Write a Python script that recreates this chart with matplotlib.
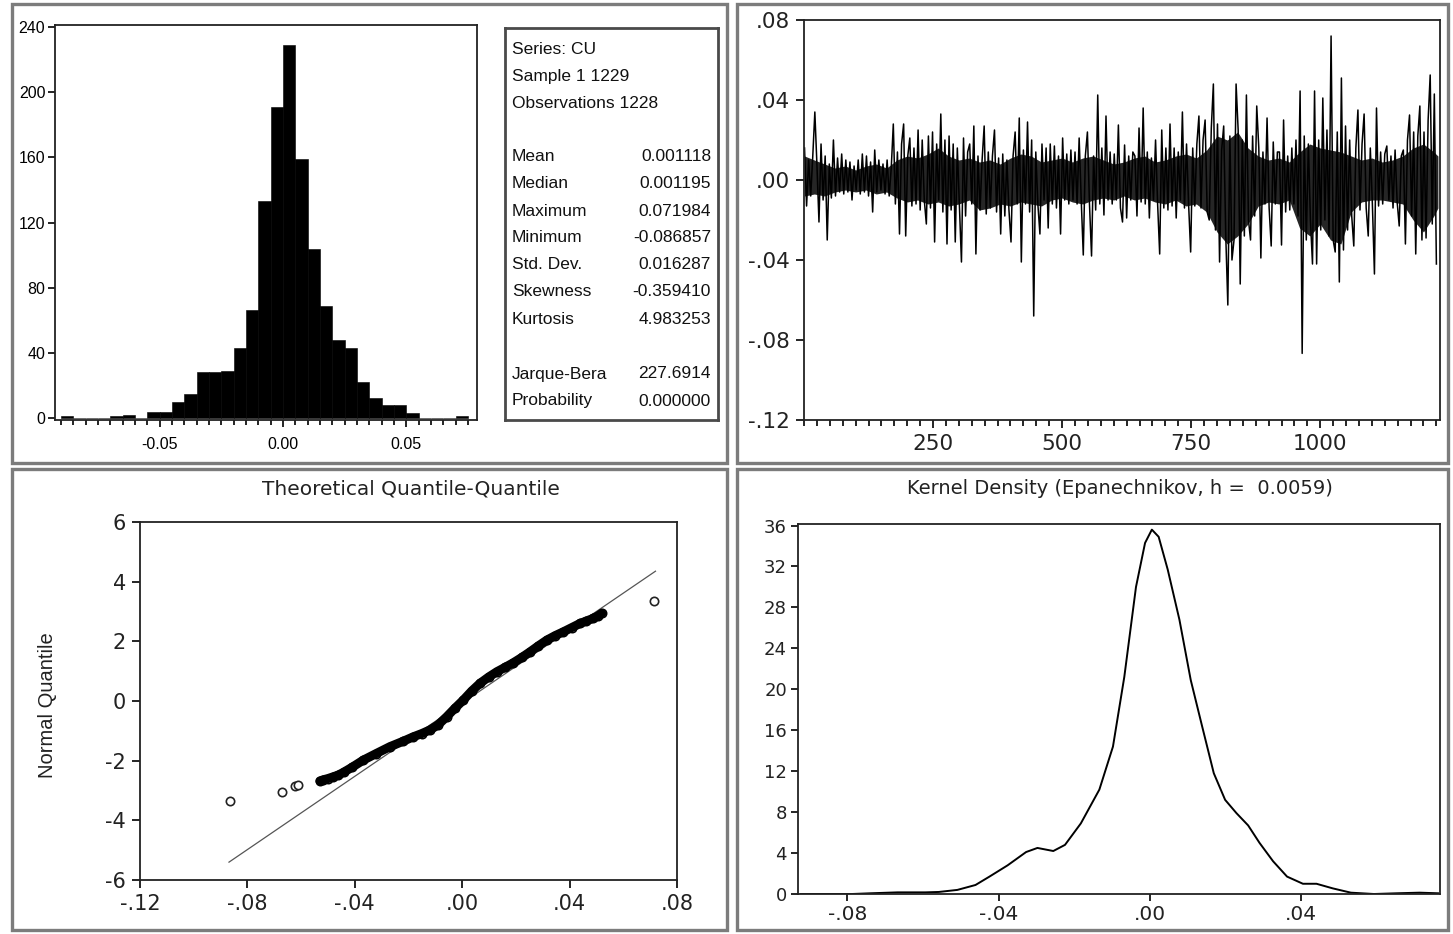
import matplotlib
matplotlib.use("Agg")
import matplotlib.pyplot as plt
from matplotlib.patches import Rectangle
from matplotlib.ticker import FixedLocator, MultipleLocator
from matplotlib import font_manager

# ---------------- data ----------------
hist_bin_start = [-0.090, -0.085, -0.080, -0.075, -0.070, -0.065, -0.060, -0.055,
                  -0.050, -0.045, -0.040, -0.035, -0.030, -0.025, -0.020, -0.015,
                  -0.010, -0.005, 0.000, 0.005, 0.010, 0.015, 0.020, 0.025,
                  0.030, 0.035, 0.040, 0.045, 0.050, 0.055, 0.060, 0.065, 0.070]
hist_counts = [1, 0, 0, 0, 1, 2, 0, 4,
               4, 10, 15, 28, 28, 29, 43, 66,
               133, 191, 229, 159, 104, 69, 48, 43,
               22, 12, 8, 8, 3, 0, 0, 0, 1]
hist_bin_width = 0.005
hist_xticks = [-0.05, 0.00, 0.05]
hist_xticklabels = ["-0.05", "0.00", "0.05"]
hist_yticks = [0, 40, 80, 120, 160, 200, 240]

stats_header = ["Series: CU", "Sample 1 1229", "Observations 1228"]
stats_names = ["Mean", "Median", "Maximum", "Minimum", "Std. Dev.", "Skewness", "Kurtosis"]
stats_values = ["0.001118", "0.001195", "0.071984", "-0.086857", "0.016287", "-0.359410", "4.983253"]
test_names = ["Jarque-Bera", "Probability"]
test_values = ["227.6914", "0.000000"]

# CU series, one value read every 4 observations
ts_values = [
    0.016, -0.013, 0.010, -0.008, 0.012, 0.034, 0.008, -0.021, 0.018, -0.010,
    0.012, -0.030, 0.008, -0.009, 0.020, -0.008, 0.011, -0.006, 0.013, -0.007,
    0.010, -0.006, 0.009, -0.010, 0.007, -0.005, 0.010, -0.007, 0.013, -0.006,
    0.012, -0.008, 0.009, -0.016, 0.015, -0.006, 0.010, -0.005, 0.008, -0.007,
    0.010, -0.008, 0.006, 0.028, -0.012, 0.014, -0.027, 0.018, 0.028, -0.028,
    0.012, 0.021, -0.013, 0.016, -0.012, 0.025, -0.015, 0.020, -0.010, -0.022,
    0.022, -0.014, 0.024, -0.031, 0.018, -0.010, 0.033, -0.016, 0.020, -0.032,
    0.022, -0.015, 0.018, -0.031, 0.016, -0.012, -0.041, 0.021, -0.018, 0.014,
    0.018, -0.012, 0.027, -0.037, 0.012, -0.015, 0.010, 0.027, -0.017, 0.014,
    -0.014, 0.012, 0.025, -0.016, 0.011, -0.027, 0.013, -0.018, 0.010, -0.015,
    -0.031, 0.012, 0.024, -0.012, 0.031, -0.041, 0.015, -0.012, 0.029, -0.016,
    0.020, -0.068, 0.014, -0.012, -0.027, 0.018, -0.010, 0.016, -0.024, 0.018,
    -0.012, 0.017, -0.014, 0.012, -0.027, 0.021, -0.010, 0.013, -0.012, 0.015,
    -0.010, 0.014, -0.012, 0.021, -0.010, -0.0375, 0.012, 0.024, -0.012, -0.038,
    0.012, -0.015, 0.0425, -0.012, 0.016, -0.0175, 0.032, -0.010, 0.014, -0.012,
    0.013, -0.010, 0.0275, -0.014, -0.021, 0.0175, -0.019, 0.012, -0.010, 0.014,
    0.012, -0.018, 0.026, -0.011, 0.036, -0.012, 0.014, -0.019, 0.011, -0.010,
    0.020, -0.012, -0.037, 0.025, -0.014, 0.016, -0.015, 0.028, -0.013, 0.016,
    -0.019, 0.014, -0.010, 0.034, -0.014, 0.018, -0.012, -0.036, 0.016, -0.013,
    0.018, 0.032, -0.014, 0.020, 0.030, -0.016, -0.020, 0.026, 0.048, -0.025,
    0.028, -0.041, 0.015, 0.027, -0.028, -0.0625, 0.022, -0.040, -0.030, 0.048,
    0.025, -0.052, 0.020, -0.028, 0.0425, -0.020, -0.030, 0.022, -0.018, 0.037,
    0.016, -0.039, 0.014, -0.012, 0.031, -0.014, -0.033, 0.019, -0.012, 0.014,
    0.014, -0.0325, 0.030, -0.016, 0.012, -0.015, 0.016, -0.012, 0.020, -0.018,
    0.0445, -0.0867, 0.022, -0.030, 0.018, -0.020, -0.042, 0.0445, -0.042, 0.020,
    -0.025, 0.041, -0.020, 0.025, -0.028, 0.072, -0.030, -0.036, 0.024, -0.051,
    0.051, -0.035, 0.027, -0.025, 0.020, -0.018, -0.033, 0.016, 0.035, -0.015,
    0.018, 0.033, -0.014, -0.028, 0.016, -0.012, -0.047, 0.036, -0.013, 0.014,
    -0.012, 0.013, 0.017, -0.010, 0.012, -0.014, 0.015, -0.011, -0.023, 0.012,
    0.015, -0.032, 0.020, 0.0325, -0.018, 0.024, -0.037, 0.022, 0.037, -0.030,
    0.024, -0.029, 0.030, 0.0525, -0.022, 0.043, -0.042,
]
ts_obs = [1 + 4 * i for i in range(len(ts_values))]

# dense black core of the series: upper / lower edge read every 20 observations
ts_core_obs = [1, 20, 40, 60, 80, 100, 120, 140, 160, 180, 200, 220, 240, 260, 280, 300,
               320, 340, 360, 380, 400, 420, 440, 460, 480, 500, 520, 540, 560, 580, 600,
               620, 640, 660, 680, 700, 720, 740, 760, 780, 800, 820, 840, 860, 880, 900,
               920, 940, 960, 980, 1000, 1020, 1040, 1060, 1080, 1100, 1120, 1140, 1160,
               1180, 1200, 1220, 1228]
ts_core_hi = [0.012, 0.010, 0.008, 0.006, 0.007, 0.005, 0.007, 0.008, 0.006, 0.010, 0.012,
              0.011, 0.013, 0.016, 0.012, 0.010, 0.011, 0.009, 0.010, 0.008, 0.011, 0.013,
              0.012, 0.009, 0.010, 0.011, 0.009, 0.011, 0.012, 0.010, 0.008, 0.009, 0.011,
              0.012, 0.009, 0.010, 0.012, 0.013, 0.011, 0.015, 0.022, 0.020, 0.024, 0.016,
              0.012, 0.010, 0.011, 0.009, 0.014, 0.018, 0.016, 0.015, 0.014, 0.012, 0.010,
              0.011, 0.009, 0.010, 0.012, 0.016, 0.018, 0.014, 0.012]
ts_core_lo = [-0.008, -0.007, -0.008, -0.006, -0.005, -0.006, -0.005, -0.007, -0.006, -0.009,
              -0.011, -0.010, -0.012, -0.011, -0.013, -0.012, -0.010, -0.015, -0.014, -0.012,
              -0.013, -0.011, -0.012, -0.013, -0.010, -0.009, -0.011, -0.012, -0.010, -0.009,
              -0.010, -0.008, -0.010, -0.009, -0.011, -0.012, -0.010, -0.013, -0.012, -0.016,
              -0.026, -0.032, -0.028, -0.022, -0.013, -0.011, -0.012, -0.010, -0.024, -0.028,
              -0.022, -0.030, -0.032, -0.016, -0.011, -0.010, -0.010, -0.011, -0.012, -0.020,
              -0.026, -0.018, -0.014]
ts_xticks = [250, 500, 750, 1000]
ts_yticks = [-0.12, -0.08, -0.04, 0.00, 0.04, 0.08]
ts_yticklabels = ["-.12", "-.08", "-.04", ".00", ".04", ".08"]

# Quantile-quantile: empirical quantile of CU (x) vs normal quantile (y)
qq_tail_x = [-0.0865, -0.0672, -0.0622, -0.0612, 0.0716]
qq_tail_y = [-3.34, -3.06, -2.86, -2.80, 3.34]
qq_body_x = [-0.0530, -0.0517, -0.0500, -0.0480, -0.0461, -0.0440, -0.0410, -0.0368,
             -0.0320, -0.0269, -0.0220, -0.0182, -0.0150, -0.0120, -0.0090, -0.0058,
             -0.0028, 0.0004, 0.0035, 0.0066, 0.0098, 0.0129, 0.0160, 0.0190,
             0.0222, 0.0253, 0.0284, 0.0315, 0.0346, 0.0377, 0.0408, 0.0439,
             0.0462, 0.0488, 0.0505, 0.0520]
qq_body_y = [-2.68, -2.64, -2.60, -2.54, -2.48, -2.38, -2.22, -1.98,
             -1.76, -1.53, -1.35, -1.20, -1.09, -0.97, -0.80, -0.53,
             -0.25, 0.03, 0.33, 0.59, 0.80, 0.98, 1.13, 1.28,
             1.46, 1.65, 1.85, 2.04, 2.19, 2.32, 2.46, 2.60,
             2.68, 2.77, 2.85, 2.94]
cu_mean = 0.001118
cu_std = 0.016287
cu_min = -0.086857
cu_max = 0.071984
qq_xticks = [-0.12, -0.08, -0.04, 0.00, 0.04, 0.08]
qq_xticklabels = ["-.12", "-.08", "-.04", ".00", ".04", ".08"]
qq_yticks = [-6, -4, -2, 0, 2, 4, 6]

# Kernel density curve
kd_x = [-0.0924, -0.0788, -0.0739, -0.0667, -0.0594, -0.0558, -0.0509, -0.0461, -0.0424, -0.0376,
        -0.0327, -0.0297, -0.0255, -0.0224, -0.0182, -0.0133, -0.0097, -0.0067, -0.0036, -0.0012,
        0.0006, 0.0024, 0.0048, 0.0079, 0.0109, 0.0139, 0.0170, 0.0200, 0.0230, 0.0261,
        0.0291, 0.0327, 0.0364, 0.0406, 0.0442, 0.0485, 0.0533, 0.0594, 0.0654, 0.0715,
        0.0764]
kd_y = [0.0, 0.0, 0.07, 0.16, 0.16, 0.2, 0.4, 0.88, 1.7, 2.8,
        4.1, 4.5, 4.2, 4.8, 6.9, 10.2, 14.4, 21.2, 30.0, 34.3,
        35.6, 34.9, 31.7, 26.8, 20.9, 16.4, 11.8, 9.2, 7.9, 6.7,
        5.0, 3.2, 1.7, 1.0, 1.0, 0.55, 0.13, 0.0, 0.07, 0.13,
        0.07]
kd_xticks = [-0.08, -0.04, 0.00, 0.04]
kd_xticklabels = ["-.08", "-.04", ".00", ".04"]
kd_yticks = [0, 4, 8, 12, 16, 20, 24, 28, 32, 36]

qq_title = "Theoretical Quantile-Quantile"
qq_ylabel = "Normal Quantile"
kd_title = "Kernel Density (Epanechnikov, h =  0.0059)"

# ---------------- fonts ----------------
installed = {f.name for f in font_manager.fontManager.ttflist}
ARIAL = "Liberation Sans" if "Liberation Sans" in installed else "DejaVu Sans"
NARROW = "Liberation Sans Narrow" if "Liberation Sans Narrow" in installed else ARIAL
plt.rcParams["font.family"] = ["DejaVu Sans"]

# ---------------- figure ----------------
W, H = 1453, 934
fig = plt.figure(figsize=(W / 100, H / 100), dpi=100)
fig.patch.set_facecolor("white")


def add_ax(l, t, r, b):
    return fig.add_axes([l / W, 1 - b / H, (r - l) / W, (b - t) / H])


def fx(px):
    return px / W


def fy(py):
    return 1 - py / H


# panel frames
for (l, t, r, b) in [(12, 4, 727, 463), (737, 4, 1448, 463), (12, 469, 727, 930), (737, 469, 1448, 930)]:
    fig.patches.append(Rectangle((fx(l), fy(b)), (r - l) / W, (b - t) / H, transform=fig.transFigure,
                                 fill=False, ec="#7c7c7c", lw=2.4))


def style_axes(ax, lw=1.3):
    for s in ax.spines.values():
        s.set_linewidth(lw)
        s.set_color("#222222")


# ---------- histogram ----------
axh = add_ax(55, 25, 477, 420)
axh.bar(hist_bin_start, hist_counts, width=hist_bin_width, align="edge",
        color="black", edgecolor="black", linewidth=0.4)
axh.set_xlim(-0.0925, 0.0787)
axh.set_ylim(-1.2, 241.2)
axh.set_yticks(hist_yticks)
axh.set_yticklabels([str(v) for v in hist_yticks], fontfamily=ARIAL, fontsize=11.5)
axh.set_xticks(hist_xticks)
axh.set_xticklabels(hist_xticklabels, fontfamily=ARIAL, fontsize=11.5)
axh.xaxis.set_minor_locator(FixedLocator(hist_bin_start + [0.075]))
axh.tick_params(axis="x", which="major", direction="out", length=5, width=1.2, pad=7)
axh.tick_params(axis="y", which="major", direction="out", length=5, width=1.2, pad=2)
axh.tick_params(which="minor", direction="out", length=3.5, width=1.2)
style_axes(axh)

# ---------- statistics box ----------
axs = add_ax(505, 28, 718, 420)
axs.set_xticks([])
axs.set_yticks([])
for s in axs.spines.values():
    s.set_linewidth(2.0)
    s.set_color("#4a4a4a")
txt_kw = dict(fontfamily=ARIAL, fontsize=12.5, va="center", color="#111111")
for i, s in enumerate(stats_header):
    fig.text(fx(512), fy(50 + 26.5 * i), s, ha="left", **txt_kw)
for i, (n, v) in enumerate(zip(stats_names, stats_values)):
    fig.text(fx(512), fy(157 + 27 * i), n, ha="left", **txt_kw)
    fig.text(fx(711), fy(157 + 27 * i), v, ha="right", **txt_kw)
for i, (n, v) in enumerate(zip(test_names, test_values)):
    fig.text(fx(512), fy(374 + 27 * i), n, ha="left", **txt_kw)
    fig.text(fx(711), fy(374 + 27 * i), v, ha="right", **txt_kw)

# ---------- time series ----------
axt = add_ax(804, 20, 1440, 420)
axt.fill_between(ts_core_obs, ts_core_lo, ts_core_hi, color="black", lw=0, alpha=0.85)
axt.plot(ts_obs, ts_values, color="black", lw=1.1)
axt.set_xlim(0, 1232)
axt.set_ylim(-0.12, 0.08)
axt.set_yticks(ts_yticks)
axt.set_yticklabels(ts_yticklabels, fontsize=15.5, color="#222222")
axt.set_xticks(ts_xticks)
axt.set_xticklabels([str(v) for v in ts_xticks], fontsize=15.5, color="#222222")
axt.xaxis.set_minor_locator(MultipleLocator(25))
axt.tick_params(which="major", direction="out", length=6, width=1.2, pad=4)
axt.tick_params(which="minor", direction="out", length=4, width=1.2)
style_axes(axt)

# ---------- QQ plot ----------
axq = add_ax(140, 522, 677, 880)
line_x = [cu_min, cu_max]
line_y = [(x - cu_mean) / cu_std for x in line_x]
axq.plot(line_x, line_y, color="#555555", lw=0.9)
axq.plot(qq_body_x, qq_body_y, color="black", lw=6.5, solid_capstyle="round", zorder=3)
axq.plot(qq_body_x, qq_body_y, ls="none", marker="o", ms=6, mfc="none", mec="black", mew=1.2, zorder=4)
axq.plot(qq_tail_x, qq_tail_y, ls="none", marker="o", ms=6, mfc="white", mec="#222222", mew=1.2, zorder=4)
axq.set_xlim(-0.12, 0.08)
axq.set_ylim(-6, 6)
axq.set_xticks(qq_xticks)
axq.set_xticklabels(qq_xticklabels, fontsize=15, color="#222222")
axq.set_yticks(qq_yticks)
axq.set_yticklabels([str(v) for v in qq_yticks], fontsize=15, color="#222222")
axq.tick_params(direction="out", length=6, width=1.2, pad=4)
style_axes(axq)
fig.text(fx(411), fy(489), qq_title, ha="center", va="center", fontsize=14.5, color="#222222")
fig.text(fx(48), fy(705), qq_ylabel, ha="center", va="center", rotation=90,
         fontfamily=NARROW, fontsize=17 if NARROW != ARIAL else 14.5, color="#222222")

# ---------- kernel density ----------
axk = add_ax(798, 524, 1440, 894)
axk.plot(kd_x, kd_y, color="black", lw=1.4)
axk.set_xlim(-0.0931, 0.0769)
axk.set_ylim(0, 36.15)
axk.set_xticks(kd_xticks)
axk.set_xticklabels(kd_xticklabels, fontsize=14.5, color="#222222")
axk.set_yticks(kd_yticks)
axk.set_yticklabels([str(v) for v in kd_yticks], fontsize=13, color="#222222")
axk.tick_params(direction="out", length=5, width=1.2, pad=3)
style_axes(axk)
fig.text(fx(1120), fy(489), kd_title, ha="center", va="center", fontsize=14, color="#222222")

fig.savefig("out.png", dpi=100)
